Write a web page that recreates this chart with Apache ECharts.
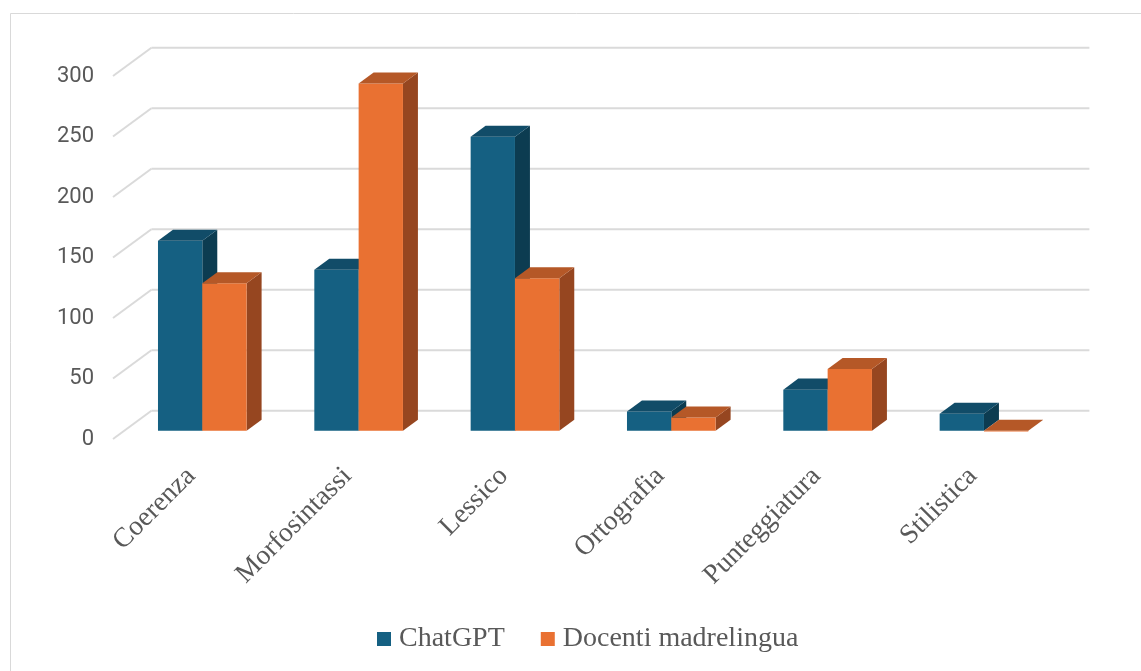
<!DOCTYPE html>
<html>
<head>
<meta charset="utf-8">
<script src="https://cdn.jsdelivr.net/npm/echarts@6/dist/echarts.min.js"></script>
<style>html,body{margin:0;padding:0;background:#fff}#c{width:1141px;height:671px}</style>
</head>
<body>
<div id="c"></div>
<script>
const categories = ['Coerenza', 'Morfosintassi', 'Lessico', 'Ortografia', 'Punteggiatura', 'Stilistica'];
const seriesNames = ['ChatGPT', 'Docenti madrelingua'];
const chatgpt = [157, 133, 243, 16, 34, 14];
const docenti = [122, 287, 126, 11, 51, 0];
const yTicks = [0, 50, 100, 150, 200, 250, 300];

// styles
const DEPTH = [38.4, -28.3];       // projection of full floor depth
const F0 = 0.29, F1 = 0.68;        // bar depth span (fraction of floor depth)
const BAR_FRAC = 0.2835;           // bar width relative to category band
const faceColors = [
  {front: '#156082', top: '#114c68', side: '#0c3c51'},
  {front: '#e97132', top: '#b55827', side: '#964620'}
];
const GRID_COLOR = '#dadada';
const TEXT_COLOR = '#595959';

const chart = echarts.init(document.getElementById('c'));

function barRenderer(sIdx) {
  return function (params, api) {
    const cat = api.value(0), v = api.value(1);
    const base = api.coord([cat, 0]);
    const top = api.coord([cat, v]);
    const band = api.size([1, 0])[0];
    const bw = band * BAR_FRAC;
    const ox = DEPTH[0] * F0, oy = DEPTH[1] * F0;
    const dx = DEPTH[0] * (F1 - F0), dy = DEPTH[1] * (F1 - F0);
    const x0 = base[0] - bw + sIdx * bw + ox;
    const x1 = x0 + bw;
    const by = base[1] + oy;
    const ty = top[1] + oy;
    const c = faceColors[sIdx];
    return {
      type: 'group',
      children: [
        {type: 'polygon', shape: {points: [[x1, ty], [x1 + dx, ty + dy], [x1 + dx, by + dy], [x1, by]]},
          style: {fill: c.side}},
        {type: 'rect', shape: {x: x0, y: ty, width: bw, height: Math.max(by - ty, 0.8)},
          style: {fill: c.front}},
        {type: 'polygon', shape: {points: [[x0, ty], [x1, ty], [x1 + dx, ty + dy], [x0 + dx, ty + dy]]},
          style: {fill: c.top}}
      ]
    };
  };
}

function wallRenderer(params, api) {
  const v = api.value(1);
  const band = api.size([1, 0])[0];
  const left = api.coord([0, v]);
  const right = api.coord([categories.length - 1, v]);
  const lx = left[0] - band / 2, rx = right[0] + band / 2, y = left[1];
  const st = {stroke: GRID_COLOR, lineWidth: 2, fill: null};
  return {
    type: 'group',
    children: [
      {type: 'line', shape: {x1: lx, y1: y, x2: lx + DEPTH[0], y2: y + DEPTH[1]}, style: st},
      {type: 'line', shape: {x1: lx + DEPTH[0], y1: y + DEPTH[1], x2: rx + DEPTH[0], y2: y + DEPTH[1]}, style: st}
    ]
  };
}

chart.setOption({
  animation: false,
  backgroundColor: '#ffffff',
  graphic: [{
    type: 'rect', left: 8, top: 11, z: -10,
    shape: {width: 1200, height: 700},
    style: {fill: null, stroke: '#d9d9d9', lineWidth: 1}
  }],
  grid: {left: 113, right: 90, top: 76, bottom: 232},
  xAxis: {
    type: 'category',
    data: categories,
    axisLine: {show: false},
    axisTick: {show: false},
    splitLine: {show: false},
    axisLabel: {
      rotate: 45, interval: 0, margin: 33,
      fontFamily: 'Liberation Serif', fontSize: 27.5, color: TEXT_COLOR
    }
  },
  yAxis: {
    type: 'value', min: 0, max: 300, interval: 50,
    axisLine: {show: false}, axisTick: {show: false}, splitLine: {show: false},
    axisLabel: {margin: 19, fontFamily: 'Roboto', fontSize: 22, color: TEXT_COLOR, padding: [6, 0, 0, 0]}
  },
  legend: {
    left: 372, top: 620,
    itemWidth: 14, itemHeight: 14, itemGap: 36,
    icon: 'rect',
    textStyle: {fontFamily: 'Liberation Serif', fontSize: 28, color: TEXT_COLOR, padding: [0, 0, 0, 3]},
    data: seriesNames
  },
  series: [
    {
      type: 'custom', name: 'wall', z: 1, clip: false, silent: true,
      renderItem: wallRenderer,
      encode: {x: 0, y: 1},
      data: yTicks.map(t => [0, t])
    },
    {
      type: 'custom', name: seriesNames[0], z: 2, clip: false,
      itemStyle: {color: faceColors[0].front},
      renderItem: barRenderer(0),
      encode: {x: 0, y: 1},
      data: chatgpt.map((v, i) => [i, v])
    },
    {
      type: 'custom', name: seriesNames[1], z: 3, clip: false,
      itemStyle: {color: faceColors[1].front},
      renderItem: barRenderer(1),
      encode: {x: 0, y: 1},
      data: docenti.map((v, i) => [i, v])
    }
  ]
});
</script>
</body>
</html>
